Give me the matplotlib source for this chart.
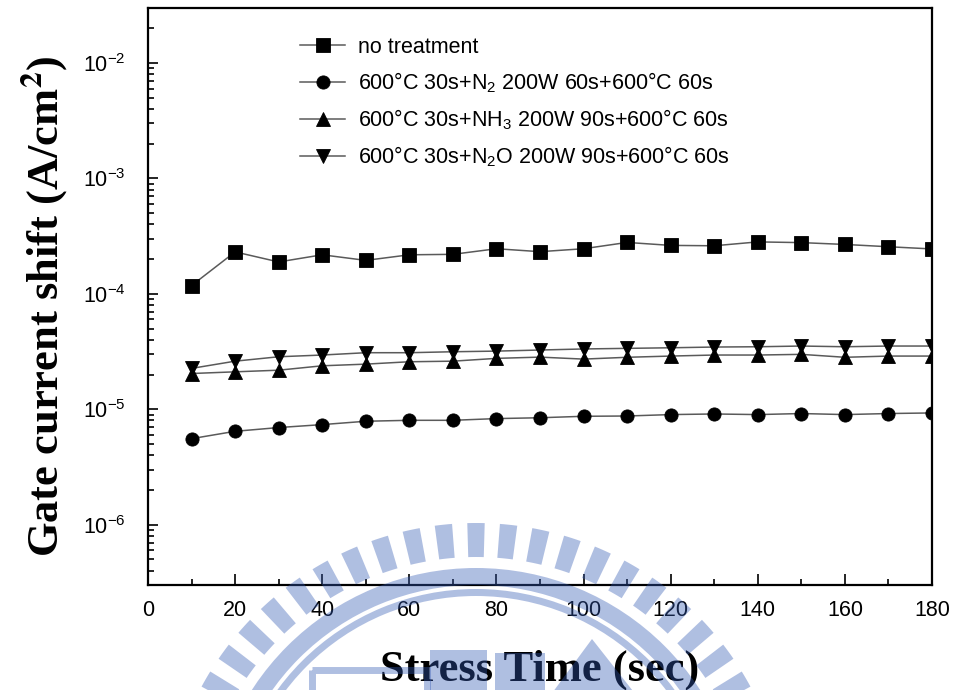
import numpy as np
import matplotlib
matplotlib.use("Agg")
import matplotlib.pyplot as plt
from matplotlib.patches import Wedge, Rectangle, Polygon
from matplotlib.ticker import LogLocator, MultipleLocator

plt.rcParams['font.family'] = ['Liberation Sans', 'DejaVu Sans']
plt.rcParams['mathtext.fontset'] = 'custom'
plt.rcParams['mathtext.rm'] = 'Liberation Sans'
plt.rcParams['mathtext.it'] = 'Liberation Sans:italic'
plt.rcParams['mathtext.bf'] = 'Liberation Sans:bold'

# Stress time (s)
stress_time = [10, 20, 30, 40, 50, 60, 70, 80, 90, 100,
               110, 120, 130, 140, 150, 160, 170, 180]

# Gate current shift (A/cm^2)
no_treatment = [1.18e-4, 2.31e-4, 1.89e-4, 2.18e-4, 1.95e-4, 2.18e-4, 2.20e-4, 2.46e-4, 2.32e-4,
                2.46e-4, 2.79e-4, 2.63e-4, 2.61e-4, 2.82e-4, 2.78e-4, 2.68e-4, 2.56e-4, 2.45e-4]
n2_plasma = [5.56e-6, 6.44e-6, 6.94e-6, 7.36e-6, 7.87e-6, 8.02e-6, 8.02e-6, 8.30e-6, 8.44e-6,
             8.69e-6, 8.74e-6, 8.99e-6, 9.10e-6, 8.99e-6, 9.18e-6, 8.99e-6, 9.18e-6, 9.29e-6]
nh3_plasma = [2.04e-5, 2.11e-5, 2.18e-5, 2.38e-5, 2.46e-5, 2.58e-5, 2.61e-5, 2.76e-5, 2.83e-5,
              2.72e-5, 2.82e-5, 2.89e-5, 2.95e-5, 2.95e-5, 2.99e-5, 2.82e-5, 2.89e-5, 2.89e-5]
n2o_plasma = [2.26e-5, 2.61e-5, 2.85e-5, 2.95e-5, 3.09e-5, 3.09e-5, 3.15e-5, 3.19e-5, 3.26e-5,
              3.33e-5, 3.37e-5, 3.41e-5, 3.46e-5, 3.48e-5, 3.53e-5, 3.48e-5, 3.53e-5, 3.53e-5]

labels = [
    "no treatment",
    "600°C 30s+N$_2$ 200W 60s+600°C 60s",
    "600°C 30s+NH$_3$ 200W 90s+600°C 60s",
    "600°C 30s+N$_2$O 200W 90s+600°C 60s",
]
markers = ["s", "o", "^", "v"]
series = [no_treatment, n2_plasma, nh3_plasma, n2o_plasma]

fig = plt.figure(figsize=(9.56, 6.9), dpi=100)
ax = fig.add_axes([0.1548, 0.1522, 0.8201, 0.8362])

for ys, m, lab in zip(series, markers, labels):
    ax.plot(stress_time, ys, color="#5a5a5a", lw=1.1, marker=m, ms=9.5,
            mfc="black", mec="black", mew=0.6, label=lab)

ax.set_yscale("log")
ax.set_xlim(0, 180)
ax.set_ylim(3e-7, 3e-2)
ax.xaxis.set_major_locator(MultipleLocator(20))
ax.xaxis.set_minor_locator(MultipleLocator(10))
ax.yaxis.set_major_locator(LogLocator(base=10, numticks=20))
ax.yaxis.set_minor_locator(LogLocator(base=10, subs=np.arange(2, 10), numticks=20))

ax.tick_params(axis="both", which="both", direction="in", top=False, right=False,
               labelsize=15.5, width=1.2)
ax.tick_params(axis="x", which="major", length=8, pad=11)
ax.tick_params(axis="x", which="minor", length=4.5)
ax.tick_params(axis="y", which="major", length=7, pad=16)
ax.tick_params(axis="y", which="minor", length=4)
for sp in ax.spines.values():
    sp.set_linewidth(1.6)

ax.set_xlabel("Stress Time (sec)", family="Liberation Serif", fontweight="bold",
              fontsize=32, labelpad=20)
ax.set_ylabel(r"Gate current shift (A/cm$^{\mathbf{2}}$)", family="Liberation Serif",
              fontweight="bold", fontsize=32, math_fontfamily="stix")
ax.yaxis.set_label_coords(-0.1, 0.483)

ax.legend(loc="upper left", bbox_to_anchor=(0.183, 0.965), frameon=False,
          fontsize=15.5, handlelength=2.1, handletextpad=0.6, labelspacing=0.58,
          borderaxespad=0)

# Light-blue emblem printed over the lower part of the figure
wm = fig.add_axes([0, 0, 1, 1], zorder=10)
wm.set_xlim(0, 956)
wm.set_ylim(690, 0)
wm.set_axis_off()
wm.patch.set_alpha(0)
wm_color = (51 / 255, 90 / 255, 180 / 255)
wm_alpha = 0.39
cx, cy = 476, 835
for k in range(60):
    th = 270 + 6 * k
    wm.add_patch(Wedge((cx, cy), 312, th - 1.6, th + 1.6, width=34,
                       fc=wm_color, ec="none", alpha=wm_alpha))
wm.add_patch(Wedge((cx, cy), 267, 0, 360, width=17, fc=wm_color, ec="none", alpha=wm_alpha))
wm.add_patch(Wedge((cx, cy), 246, 0, 360, width=7, fc=wm_color, ec="none", alpha=wm_alpha))
# central blocks
wm.add_patch(Rectangle((312, 670), 115, 30, fc="none", ec=wm_color, lw=5, alpha=wm_alpha))
wm.add_patch(Rectangle((430, 650), 57, 50, fc=wm_color, ec="none", alpha=wm_alpha))
wm.add_patch(Rectangle((495, 653), 50, 47, fc=wm_color, ec="none", alpha=wm_alpha))
wm.add_patch(Polygon([(547, 700), (592, 639), (640, 700)], closed=True,
                     fc=wm_color, ec="none", alpha=wm_alpha))

fig.savefig("out.png", dpi=100)
